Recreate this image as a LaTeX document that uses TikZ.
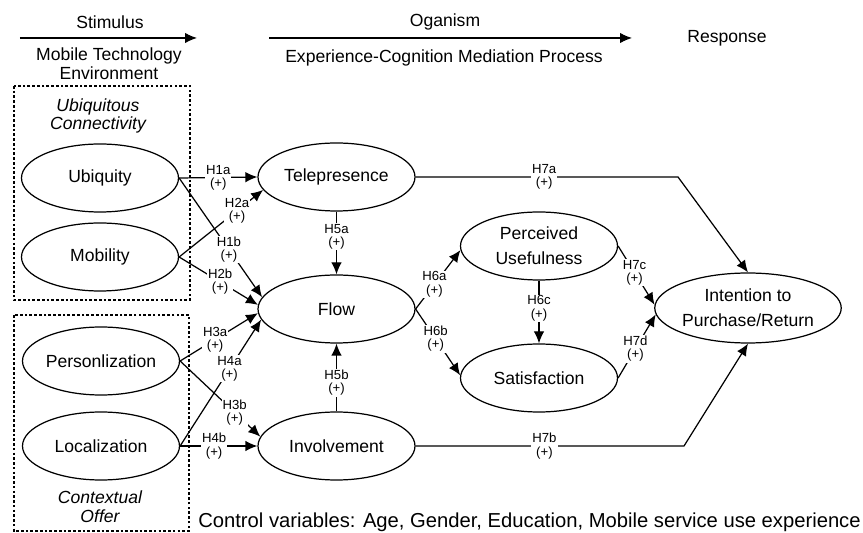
\documentclass[tikz,border=0pt]{standalone}
\usepackage{fontspec}
\setmainfont{Liberation Sans}
\usepackage{tikz}
\usetikzlibrary{shapes.geometric,arrows.meta}

\begin{document}
\begin{tikzpicture}[
            >={Latex[length=2.4mm,width=2.1mm]},
            latent/.style={shape=ellipse, draw, line width=0.7pt, minimum width=3.14cm, minimum height=1.36cm, inner sep=0pt, align=center, font=\fontsize{10}{14}\selectfont},
            hyp/.style={fill=white, inner sep=0.6pt, align=center, font=\fontsize{7.5}{7.5}\selectfont},
            link/.style={->, line width=0.7pt},
            panel/.style={draw, dash pattern=on 1.5pt off 1.2pt, line width=0.6pt},
            head/.style={align=center, font=\fontsize{10}{10.5}\selectfont}]
        \useasboundingbox (0,0) rectangle (17.26,-10.66);

        \coordinate (s0) at (0.40,-0.76);
        \coordinate (s1) at (3.94,-0.76);
        \coordinate (o0) at (5.38,-0.76);
        \coordinate (o1) at (12.64,-0.76);
        \draw[link] (s0) -- (s1);
        \draw[link] (o0) -- (o1);
        \node[head] (stim) at (2.2,-0.44) {Stimulus};
        \node[head] (mte) at (2.18,-1.27) {Mobile Technology\\Environment};
        \node[head] (orga) at (8.9,-0.44) {Oganism};
        \node[head] (ecmp) at (8.88,-1.16) {Experience-Cognition Mediation Process};
        \node[head] (resp) at (14.54,-0.76) {Response};

        \draw[panel] (0.28,-1.72) rectangle (3.8,-6.0);
        \draw[panel] (0.28,-6.3) rectangle (3.78,-10.62);
        \node[head,font=\fontsize{10}{10.5}\selectfont\itshape] (ubcon) at (1.96,-2.32) {Ubiquitous\\Connectivity};
        \node[head,font=\fontsize{10}{10.5}\selectfont\itshape] (ctxof) at (2.0,-10.13) {Contextual\\Offer};

        \node[latent] (ubiq) at (2.0,-3.56) {Ubiquity};
        \node[latent] (mobil) at (2.0,-5.14) {Mobility};
        \node[latent] (pers) at (2.02,-7.22) {Personlization};
        \node[latent] (local) at (2.02,-8.92) {Localization};
        \node[latent] (tele) at (6.73,-3.54) {Telepresence};
        \node[latent] (flow) at (6.73,-6.18) {Flow};
        \node[latent] (invol) at (6.73,-8.92) {Involvement};
        \node[latent] (pu) at (10.78,-4.92) {Perceived\\Usefulness};
        \node[latent] (sat) at (10.78,-7.56) {Satisfaction};
        \node[latent,minimum width=3.52cm,minimum height=1.4cm] (intent) at (14.96,-6.16) {Intention to\\Purchase/Return};

        \coordinate (c7a) at (13.56,-3.54);
        \coordinate (c7b) at (13.68,-8.92);

        \draw[link] (ubiq.east) -- node[hyp,pos=0.5] {H1a\\(+)} (tele.west);
        \draw[link] (ubiq.east) -- node[hyp,pos=0.6] {H1b\\(+)} (flow.171);
        \draw[link] (mobil.east) -- node[hyp,pos=0.69] {H2a\\(+)} (tele.190);
        \draw[link] (mobil.east) -- node[hyp,pos=0.52] {H2b\\(+)} (flow.177);
        \draw[link] (pers.east) -- node[hyp,pos=0.45] {H3a\\(+)} (flow.183);
        \draw[link] (pers.east) -- node[hyp,pos=0.68] {H3b\\(+)} (invol.173);
        \draw[link] (local.east) -- node[hyp,pos=0.61] {H4a\\(+)} (flow.188);
        \draw[link] (local.east) -- node[hyp,pos=0.44] {H4b\\(+)} (invol.west);
        \draw[link] (tele.south) -- node[hyp,pos=0.4] {H5a\\(+)} (flow.north);
        \draw[link] (invol.north) -- node[hyp,pos=0.42] {H5b\\(+)} (flow.south);
        \draw[link] (flow.east) -- node[hyp,pos=0.42] {H6a\\(+)} (pu.183);
        \draw[link] (flow.east) -- node[hyp,pos=0.45] {H6b\\(+)} (sat.178);
        \draw[link] (pu.south) -- node[hyp,pos=0.44] {H6c\\(+)} (sat.north);
        \draw[link] (tele.east) -- node[hyp,pos=0.49] {H7a\\(+)} (c7a) -- (intent.north);
        \draw[link] (invol.east) -- node[hyp,pos=0.48] {H7b\\(+)} (c7b) -- (intent.south);
        \draw[link] (pu.east) -- node[hyp,pos=0.45] {H7c\\(+)} (intent.178);
        \draw[link] (sat.east) -- node[hyp,pos=0.46] {H7d\\(+)} (intent.184);

        \node[font=\fontsize{11.5}{13}\selectfont] (ctrl) at (10.59,-10.44) {Control variables: Age, Gender, Education, Mobile service use experience};
    \end{tikzpicture}
\end{document}
